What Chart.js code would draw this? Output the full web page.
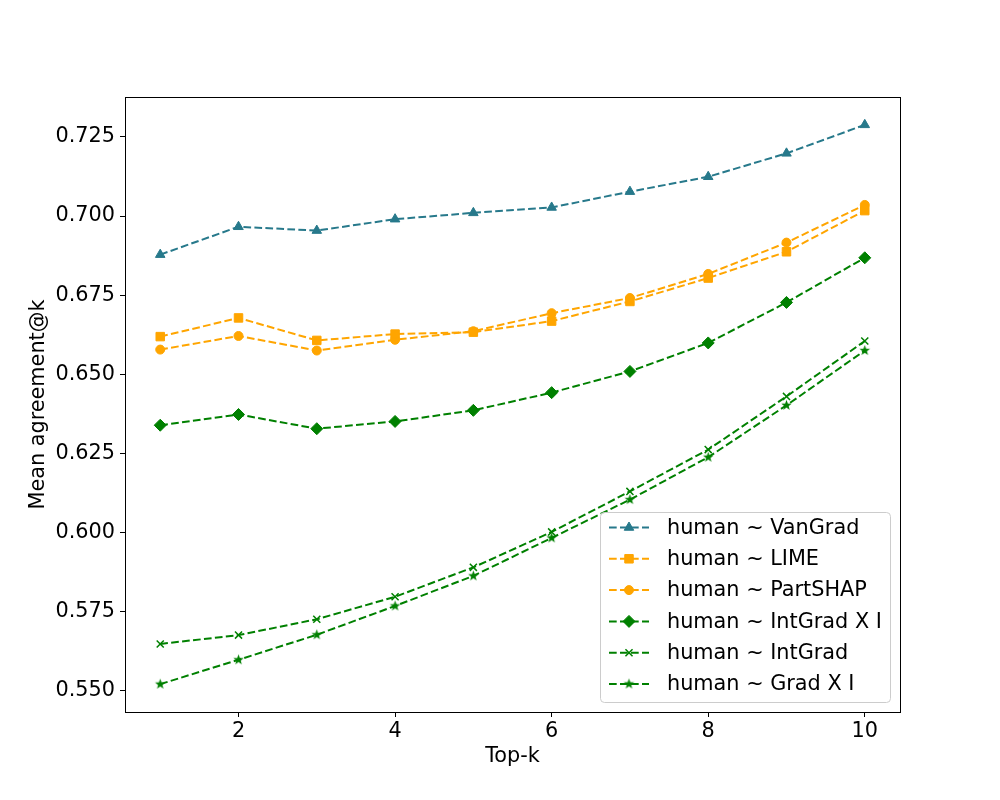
<!DOCTYPE html>
<html>
<head>
<meta charset="utf-8">
<script src="https://cdn.jsdelivr.net/npm/chart.js@4.4.0/dist/chart.umd.min.js"></script>
<style>
  body { margin: 0; background: #fff; }
  canvas { display: block; }
</style>
</head>
<body>
<canvas id="lineChart" width="1000" height="800"></canvas>
<script>
// values
const topK = [1, 2, 3, 4, 5, 6, 7, 8, 9, 10];
const xTicks = [2, 4, 6, 8, 10];
const yTicks = [0.550, 0.575, 0.600, 0.625, 0.650, 0.675, 0.700, 0.725];

const vanGrad    = [0.6878, 0.6966, 0.6954, 0.6990, 0.7010, 0.7027, 0.7077, 0.7124, 0.7198, 0.7288];
const lime       = [0.6619, 0.6678, 0.6607, 0.6627, 0.6633, 0.6668, 0.6730, 0.6804, 0.6887, 0.7017];
const partShap   = [0.6578, 0.6621, 0.6575, 0.6609, 0.6636, 0.6693, 0.6741, 0.6817, 0.6916, 0.7035];
const intGradXI  = [0.6339, 0.6373, 0.6328, 0.6351, 0.6386, 0.6442, 0.6509, 0.6599, 0.6727, 0.6868];
const intGrad    = [0.5648, 0.5676, 0.5726, 0.5797, 0.5890, 0.6002, 0.6130, 0.6262, 0.6430, 0.6605];
const gradXI     = [0.5521, 0.5598, 0.5677, 0.5768, 0.5863, 0.5983, 0.6104, 0.6238, 0.6402, 0.6575];

const TEAL = '#27798b';
const ORANGE = '#ffa500';
const GREEN = '#008000';
const FONT = "'DejaVu Sans', sans-serif";
const FS = 20.8;

// filled five-point star, like matplotlib's '*' marker
function makeStar(r, color) {
  const c = document.createElement('canvas');
  c.width = c.height = r * 2 + 2;
  const g = c.getContext('2d');
  g.fillStyle = color;
  g.beginPath();
  for (let i = 0; i < 10; i++) {
    const rad = i % 2 === 0 ? r : r * 0.42;
    const a = -Math.PI / 2 + i * Math.PI / 5;
    const px = r + 1 + Math.cos(a) * rad, py = r + 1 + Math.sin(a) * rad;
    i === 0 ? g.moveTo(px, py) : g.lineTo(px, py);
  }
  g.closePath();
  g.fill();
  return c;
}
const starSmall = makeStar(5.5, GREEN);

function series(label, values, color, style, radius, borderW) {
  return {
    label,
    data: topK.map((k, i) => ({ x: k, y: values[i] })),
    borderColor: color,
    backgroundColor: color,
    pointBackgroundColor: color,
    pointBorderColor: color,
    pointBorderWidth: borderW,
    pointStyle: style,
    pointRadius: radius,
    borderWidth: 2,
    borderDash: [7.7, 3.3],
    tension: 0,
    fill: false
  };
}

const datasets = [
  series('human ~ VanGrad', vanGrad, TEAL, 'triangle', 5.5, 1),
  series('human ~ LIME', lime, ORANGE, 'rect', 6, 1),
  series('human ~ PartSHAP', partShap, ORANGE, 'circle', 4.5, 1),
  series('human ~ IntGrad X I', intGradXI, GREEN, 'rectRot', 6, 1),
  series('human ~ IntGrad', intGrad, GREEN, 'crossRot', 5, 1.5),
  series('human ~ Grad X I', gradXI, GREEN, starSmall, 5.5, 1)
];

// frame around the plot area
const frame = {
  id: 'frame',
  afterDatasetsDraw(chart) {
    const a = chart.chartArea, ctx = chart.ctx;
    ctx.save();
    ctx.strokeStyle = '#000';
    ctx.lineWidth = 1;
    ctx.strokeRect(Math.round(a.left) + 0.5, Math.round(a.top) + 0.5,
      Math.round(a.right - a.left), Math.round(a.bottom - a.top));
    ctx.restore();
  }
};

// matplotlib-like legend box in the lower right
const boxLegend = {
  id: 'boxLegend',
  afterDraw(chart) {
    const ctx = chart.ctx, a = chart.chartArea;
    const rowH = 31.3, boxW = 290, boxH = 190;
    const x0 = a.right - 10 - boxW, y0 = a.bottom - 10 - boxH;
    ctx.save();
    ctx.fillStyle = 'rgba(255,255,255,0.8)';
    ctx.strokeStyle = '#cccccc';
    ctx.lineWidth = 1;
    ctx.beginPath();
    ctx.roundRect(x0 + 0.5, y0 + 0.5, boxW, boxH, 4);
    ctx.fill();
    ctx.stroke();
    ctx.font = FS + 'px ' + FONT;
    ctx.textBaseline = 'middle';
    ctx.textAlign = 'left';
    chart.data.datasets.forEach((ds, i) => {
      const cy = y0 + 15.5 + i * rowH;
      ctx.strokeStyle = ds.borderColor;
      ctx.lineWidth = 2;
      ctx.setLineDash(ds.borderDash);
      ctx.beginPath();
      ctx.moveTo(x0 + 9, cy);
      ctx.lineTo(x0 + 49, cy);
      ctx.stroke();
      ctx.setLineDash([]);
      ctx.fillStyle = ds.pointBackgroundColor;
      ctx.strokeStyle = ds.pointBorderColor;
      ctx.lineWidth = ds.pointBorderWidth;
      Chart.helpers.drawPoint(ctx, { pointStyle: ds.pointStyle, radius: ds.pointRadius, rotation: 0, borderWidth: ds.pointBorderWidth }, x0 + 29, cy);
      ctx.fillStyle = '#000';
      ctx.fillText(ds.label, x0 + 67, cy + 1);
    });
    ctx.restore();
  }
};

new Chart(document.getElementById('lineChart').getContext('2d'), {
  type: 'line',
  data: { datasets },
  plugins: [frame, boxLegend],
  options: {
    responsive: false,
    animation: false,
    layout: { padding: { left: 0, right: 100, top: 97, bottom: 0 } },
    plugins: { legend: { display: false }, tooltip: { enabled: false } },
    scales: {
      x: {
        type: 'linear',
        min: 0.55,
        max: 10.45,
        afterFit: s => { s.height = 88; },
        afterBuildTicks: s => { s.ticks = xTicks.map(v => ({ value: v })); },
        grid: { drawOnChartArea: false, drawTicks: true, tickLength: 5, color: '#000' },
        border: { display: false },
        ticks: { color: '#000', font: { family: FONT, size: FS }, padding: 2, maxRotation: 0 },
        title: { display: true, text: 'Top-k', color: '#000', font: { family: FONT, size: FS }, padding: { top: 31, bottom: 31 } }
      },
      y: {
        min: 0.5433,
        max: 0.7376,
        afterFit: s => { s.width = 125; },
        afterBuildTicks: s => { s.ticks = yTicks.map(v => ({ value: v })); },
        grid: { drawOnChartArea: false, drawTicks: true, tickLength: 5, color: '#000' },
        border: { display: false },
        ticks: { color: '#000', font: { family: FONT, size: FS }, padding: 5, callback: v => v.toFixed(3) },
        title: { display: true, text: 'Mean agreement@k', color: '#000', font: { family: FONT, size: FS }, padding: { top: 26, bottom: 26 } }
      }
    }
  }
});
</script>
</body>
</html>
